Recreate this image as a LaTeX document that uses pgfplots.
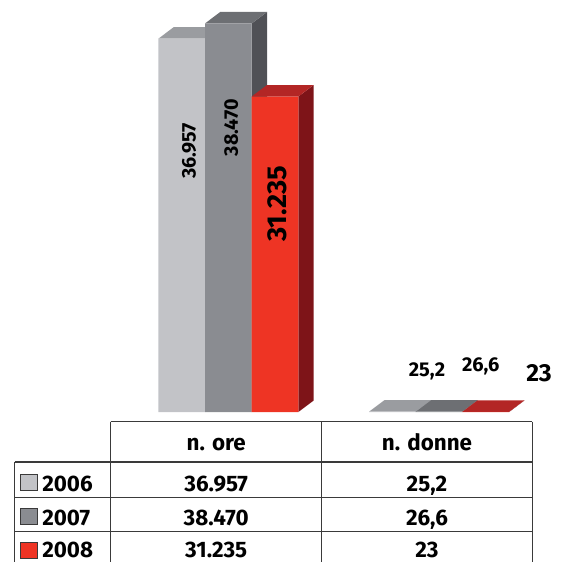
\documentclass[border=0pt]{standalone}
\usepackage{fontspec}
\setmainfont{Fira Sans}
\usepackage{pgfplots}
\pgfplotsset{compat=1.18}
\definecolor{fA}{HTML}{C2C3C7}\definecolor{tA}{HTML}{9A9CA0}\definecolor{sA}{HTML}{7E8084}
\definecolor{fB}{HTML}{8A8C91}\definecolor{tB}{HTML}{6D6F73}\definecolor{sB}{HTML}{505156}
\definecolor{fC}{HTML}{EE3424}\definecolor{tC}{HTML}{B32625}\definecolor{sC}{HTML}{7E1418}
\definecolor{grid}{HTML}{3A3A3A}
\begin{document}
\begin{tikzpicture}
\begin{axis}[at={(0pt,111.75pt)}, anchor=south west, scale only axis,
  width=425.25pt, height=309pt,
  xmin=-1.08377, xmax=1.60726, ymin=0, ymax=40792,
  hide axis, clip=false]
% ---- 2006
\addplot[fill=sA, draw=none] coordinates {(-0.11082,0) (-0.03820,1140) (-0.03820,38097) (-0.11082,36957)} -- cycle;
\addplot[fill=sA, draw=none] coordinates {(0.88918,0) (0.96180,1140) (0.96180,1165.2) (0.88918,25.2)} -- cycle;
\addplot[fill=tA, draw=none] coordinates {(-0.33246,36957) (-0.11082,36957) (-0.03820,38097) (-0.25984,38097)} -- cycle;
\addplot[fill=tA, draw=none] coordinates {(0.66754,25.2) (0.88918,25.2) (0.96180,1165.2) (0.74016,1165.2)} -- cycle;
\addplot[ybar, bar width=0.22164, bar shift=-0.22164, fill=fA, draw=none] coordinates {(0,36957) (1,25.2)};
% ---- 2007
\addplot[fill=sB, draw=none] coordinates {(0.11082,0) (0.18344,1140) (0.18344,39610) (0.11082,38470)} -- cycle;
\addplot[fill=sB, draw=none] coordinates {(1.11082,0) (1.18344,1140) (1.18344,1166.6) (1.11082,26.6)} -- cycle;
\addplot[fill=tB, draw=none] coordinates {(-0.11082,38470) (0.11082,38470) (0.18344,39610) (-0.03820,39610)} -- cycle;
\addplot[fill=tB, draw=none] coordinates {(0.88918,26.6) (1.11082,26.6) (1.18344,1166.6) (0.96180,1166.6)} -- cycle;
\addplot[ybar, bar width=0.22164, bar shift=0, fill=fB, draw=none] coordinates {(0,38470) (1,26.6)};
% ---- 2008
\addplot[fill=sC, draw=none] coordinates {(0.33246,0) (0.40508,1140) (0.40508,32375) (0.33246,31235)} -- cycle;
\addplot[fill=sC, draw=none] coordinates {(1.33246,0) (1.40508,1140) (1.40508,1163) (1.33246,23)} -- cycle;
\addplot[fill=tC, draw=none] coordinates {(0.11082,31235) (0.33246,31235) (0.40508,32375) (0.18344,32375)} -- cycle;
\addplot[fill=tC, draw=none] coordinates {(1.11082,23) (1.33246,23) (1.40508,1163) (1.18344,1163)} -- cycle;
\addplot[ybar, bar width=0.22164, bar shift=0.22164, fill=fC, draw=none] coordinates {(0,31235) (1,23)};
% ---- value labels
\node[rotate=90, font=\bfseries\fontsize{14.8}{16}\selectfont] at (axis cs:-0.1868,25842) {36.957};
\node[rotate=90, font=\bfseries\fontsize{14.8}{16}\selectfont] at (axis cs:0.0140,28168) {38.470};
\node[rotate=90, font=\bfseries\fontsize{20.5}{22}\selectfont] at (axis cs:0.2333,20594) {31.235};
\node[font=\bfseries\fontsize{15}{17}\selectfont] at (axis cs:0.9428,4059) {25,2};
\node[font=\bfseries\fontsize{15}{17}\selectfont] at (axis cs:1.1977,4485) {26,6};
\node[font=\bfseries\fontsize{18.5}{21}\selectfont] at (axis cs:1.4744,3832) {23};
\end{axis}
% ---- data table
\begin{scope}[x=0.75pt, y=-0.75pt, shift={(0pt,420.75pt)}]
\draw[line width=0.9pt, grid]
  (110.7,421.7) -- (532.3,421.7)
  (14.5,462) -- (532.3,462)
  (14.5,497.3) -- (532.3,497.3)
  (14.5,531.7) -- (532.3,531.7)
  (110.7,421.7) -- (110.7,575)
  (321.7,421.7) -- (321.7,575)
  (532.3,421.7) -- (532.3,575)
  (14.5,462) -- (14.5,575);
\begin{scope}[every node/.style={font=\bfseries\fontsize{16.8}{19}\selectfont, inner sep=0pt}]
\node[anchor=base] at (216.2,450) {n. ore};
\node[anchor=base] at (427,450) {n. donne};
\node[anchor=base] at (216.2,491) {36.957};
\node[anchor=base] at (427,491) {25,2};
\node[anchor=base] at (216.2,525) {38.470};
\node[anchor=base] at (427,525) {26,6};
\node[anchor=base] at (216.2,557) {31.235};
\node[anchor=base] at (427,557) {23};
\node[anchor=base west] at (42,491) {2006};
\node[anchor=base west] at (42,525) {2007};
\node[anchor=base west] at (42,557) {2008};
\end{scope}
\draw[fill=fA, draw=grid, line width=0.7pt] (20,474) rectangle (37,490);
\draw[fill=fB, draw=grid, line width=0.7pt] (20,508) rectangle (37,524);
\draw[fill=fC, draw=grid, line width=0.7pt] (20,542) rectangle (37,558);
\end{scope}
\pgfresetboundingbox
\useasboundingbox (0,0) rectangle (425.25pt,420.75pt);
\end{tikzpicture}
\end{document}
